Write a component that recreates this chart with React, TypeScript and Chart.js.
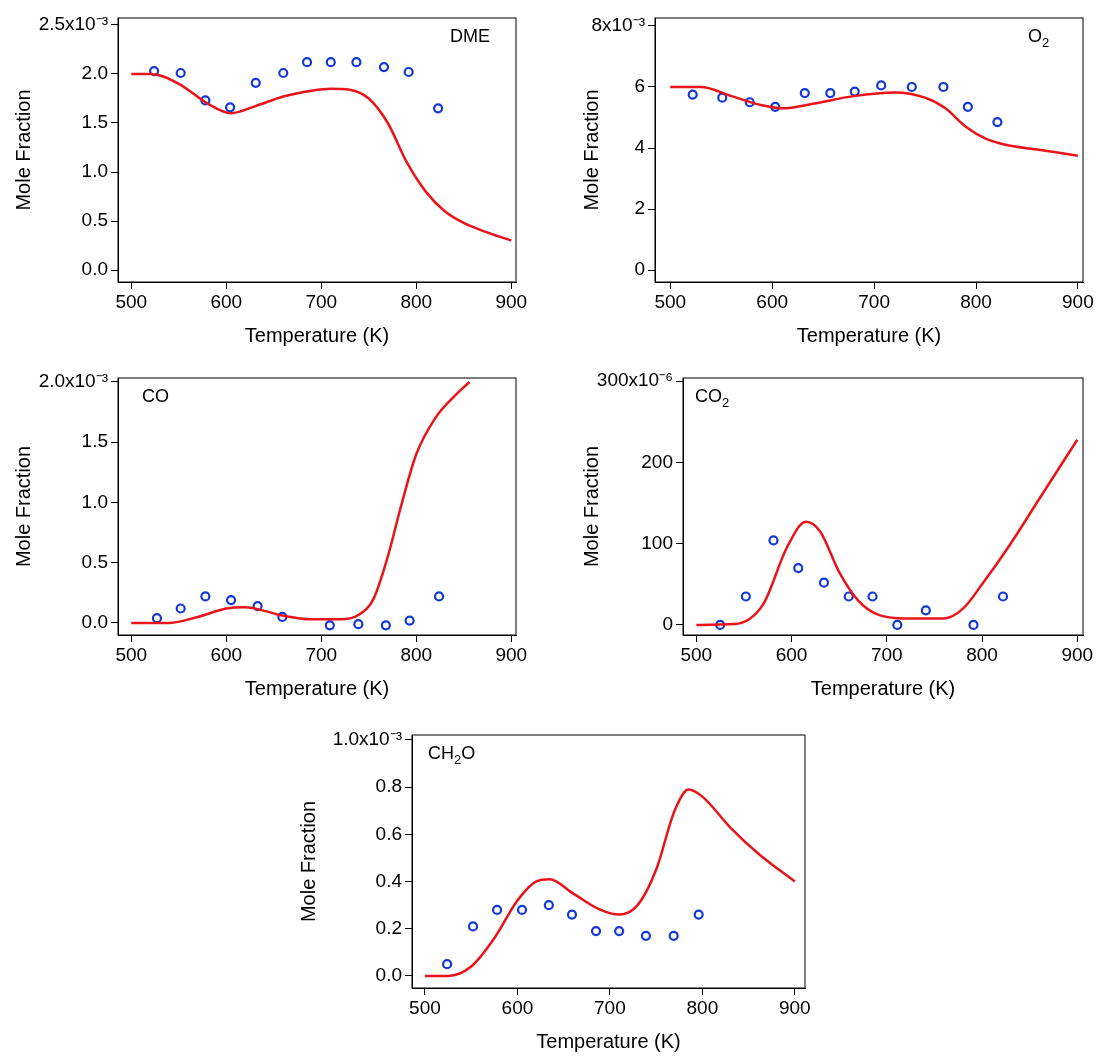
import React, { useEffect, useRef } from "react";
import { Chart, registerables } from "chart.js";
Chart.register(...registerables);

// DME (x10^-3)
const dmeExpT = [524, 552, 578, 604, 631, 660, 685, 710, 737, 766, 792, 823];
const dmeExp = [2.03, 2.01, 1.73, 1.66, 1.91, 2.01, 2.12, 2.12, 2.12, 2.07, 2.02, 1.65];
const dmeModT = [500, 520, 550, 580, 605, 630, 660, 690, 710, 730, 750, 770, 790, 810, 830, 850, 870, 900];
const dmeMod = [2.0, 2.0, 1.9, 1.7, 1.6, 1.67, 1.77, 1.83, 1.85, 1.84, 1.75, 1.5, 1.1, 0.8, 0.6, 0.48, 0.4, 0.3];
// O2 (x10^-3)
const o2ExpT = [522, 551, 578, 603, 632, 657, 681, 707, 737, 768, 792, 821];
const o2Exp = [5.75, 5.65, 5.5, 5.35, 5.8, 5.8, 5.85, 6.05, 6.0, 6.0, 5.35, 4.85];
const o2ModT = [500, 530, 560, 590, 610, 640, 680, 720, 750, 770, 790, 810, 830, 860, 900];
const o2Mod = [6.0, 6.0, 5.7, 5.4, 5.3, 5.45, 5.7, 5.82, 5.65, 5.3, 4.7, 4.3, 4.1, 3.95, 3.75];
// CO (x10^-3)
const coExpT = [527, 552, 578, 605, 633, 659, 709, 739, 768, 793, 824];
const coExp = [0.04, 0.12, 0.22, 0.19, 0.14, 0.05, -0.02, -0.01, -0.02, 0.02, 0.22];
const coModT = [500, 540, 570, 600, 620, 640, 660, 690, 720, 740, 755, 770, 785, 800, 820, 840, 856];
const coMod = [0.0, 0.0, 0.05, 0.12, 0.13, 0.1, 0.06, 0.03, 0.03, 0.07, 0.2, 0.55, 1.0, 1.4, 1.7, 1.88, 2.0];
// CO2 (x10^-6)
const co2ExpT = [525, 552, 581, 607, 634, 660, 685, 711, 741, 791, 822];
const co2Exp = [0, 35, 104, 70, 52, 35, 35, 0, 18, 0, 35];
const co2ModT = [500, 540, 570, 595, 615, 630, 650, 670, 690, 720, 760, 780, 800, 830, 860, 900];
const co2Mod = [0, 1, 25, 95, 127, 115, 65, 30, 13, 8, 8, 20, 50, 100, 155, 228];
// CH2O (x10^-3)
const chExpT = [524, 552, 578, 605, 634, 659, 685, 710, 739, 769, 796];
const chExp = [0.05, 0.21, 0.28, 0.28, 0.3, 0.26, 0.19, 0.19, 0.17, 0.17, 0.26];
const chModT = [500, 525, 550, 575, 600, 620, 635, 660, 690, 710, 730, 750, 770, 785, 800, 830, 860, 900];
const chMod = [0, 0.0, 0.04, 0.16, 0.32, 0.4, 0.41, 0.35, 0.28, 0.26, 0.3, 0.45, 0.7, 0.79, 0.76, 0.63, 0.52, 0.4];

const xTicks = [500, 600, 700, 800, 900];

type P = {
  box: [number, number, number, number];
  yw: number;
  x: [number, number]; y: [number, number];
  yTicks: number[]; yLabels: string[];
  expT: number[]; exp: number[]; modT: number[]; mod: number[];
  label: [string, string, string]; labelPos: [number, number];
};

const W = 1103, H = 1062;
const FONT = "'Liberation Sans', Arial, sans-serif";

const panels: P[] = [
  { box: [118, 18, 516, 282], yw: 110, x: [486, 905], y: [-0.122, 2.571], yTicks: [0, 0.5, 1, 1.5, 2, 2.5],
    yLabels: ["0.0", "0.5", "1.0", "1.5", "2.0", "2.5x10⁻³"], expT: dmeExpT, exp: dmeExp, modT: dmeModT, mod: dmeMod,
    label: ["DME", "", ""], labelPos: [450, 28] },
  { box: [655, 18, 1083, 282], yw: 79, x: [485, 905], y: [-0.39, 8.26], yTicks: [0, 2, 4, 6, 8],
    yLabels: ["0", "2", "4", "6", "8x10⁻³"], expT: o2ExpT, exp: o2Exp, modT: o2ModT, mod: o2Mod,
    label: ["O", "2", ""], labelPos: [1028, 28] },
  { box: [118, 378, 516, 635], yw: 110, x: [486, 905], y: [-0.1, 2.033], yTicks: [0, 0.5, 1, 1.5, 2],
    yLabels: ["0.0", "0.5", "1.0", "1.5", "2.0x10⁻³"], expT: coExpT, exp: coExp, modT: coModT, mod: coMod,
    label: ["CO", "", ""], labelPos: [142, 388] },
  { box: [683, 378, 1083, 635], yw: 107, x: [486, 906], y: [-12.4, 304], yTicks: [0, 100, 200, 300],
    yLabels: ["0", "100", "200", "300x10⁻⁶"], expT: co2ExpT, exp: co2Exp, modT: co2ModT, mod: co2Mod,
    label: ["CO", "2", ""], labelPos: [695, 388] },
  { box: [412, 735, 805, 988], yw: 119, x: [486, 911], y: [-0.051, 1.021], yTicks: [0, 0.2, 0.4, 0.6, 0.8, 1.0],
    yLabels: ["0.0", "0.2", "0.4", "0.6", "0.8", "1.0x10⁻³"], expT: chExpT, exp: chExp, modT: chModT, mod: chMod,
    label: ["CH", "2", "O"], labelPos: [428, 745] },
];

const XH = 70;

function Panel({ p }: { p: P }) {
  const ref = useRef<HTMLCanvasElement>(null);
  useEffect(() => {
    const [l, t, r, b] = p.box;
    const boxPlugin = {
      id: "box",
      afterDraw(c: any) {
        const ctx = c.ctx, a = c.chartArea;
        ctx.save();
        ctx.strokeStyle = "#000"; ctx.lineWidth = 1;
        ctx.strokeRect(a.left, a.top, a.right - a.left, a.bottom - a.top);
        ctx.fillStyle = "#000"; ctx.textBaseline = "top"; ctx.textAlign = "left";
        let [x, y] = p.labelPos;
        ctx.font = `18px ${FONT}`;
        ctx.fillText(p.label[0], x, y); x += ctx.measureText(p.label[0]).width;
        if (p.label[1]) { ctx.font = `13px ${FONT}`; ctx.fillText(p.label[1], x, y + 9); x += ctx.measureText(p.label[1]).width; }
        if (p.label[2]) { ctx.font = `18px ${FONT}`; ctx.fillText(p.label[2], x, y); }
        ctx.restore();
      },
    };
    const ch = new Chart(ref.current!, {
      type: "scatter",
      data: {
        datasets: [
          { data: p.modT.map((v, i) => ({ x: v, y: p.mod[i] })), showLine: true, borderColor: "#e8141a", borderWidth: 2.5,
            pointRadius: 0, cubicInterpolationMode: "monotone" } as any,
          { data: p.expT.map((v, i) => ({ x: v, y: p.exp[i] })), borderColor: "#1238d6", backgroundColor: "rgba(0,0,0,0)",
            pointRadius: 4, borderWidth: 2.2 } as any,
        ],
      },
      options: {
        animation: false, responsive: false, events: [],
        layout: { padding: { left: l - p.yw, top: t, right: W - r, bottom: H - b - XH } },
        plugins: { legend: { display: false }, tooltip: { enabled: false } },
        scales: {
          x: {
            type: "linear", min: p.x[0], max: p.x[1],
            afterBuildTicks: (s: any) => { s.ticks = xTicks.map((v) => ({ value: v })); },
            afterFit: (s: any) => { s.height = XH; },
            grid: { drawOnChartArea: false, tickLength: 7, tickColor: "#000" }, border: { color: "#000" },
            ticks: { color: "#000", font: { family: FONT, size: 19 }, padding: 2, maxRotation: 0 },
            title: { display: true, text: "Temperature (K)", color: "#000", font: { family: FONT, size: 20 }, padding: { top: 0 } },
          },
          y: {
            type: "linear", min: p.y[0], max: p.y[1],
            afterBuildTicks: (s: any) => { s.ticks = p.yTicks.map((v) => ({ value: v })); },
            afterFit: (s: any) => { s.width = p.yw; },
            grid: { drawOnChartArea: false, tickLength: 7, tickColor: "#000" }, border: { color: "#000" },
            ticks: { color: "#000", font: { family: FONT, size: 19 }, padding: 3,
              callback: (v: any) => { const i = p.yTicks.findIndex((t) => Math.abs(t - v) < 1e-9); return i >= 0 ? p.yLabels[i] : ""; } },
            title: { display: true, text: "Mole Fraction", color: "#000", font: { family: FONT, size: 20 }, padding: { bottom: 0 } },
          },
        },
      },
      plugins: [boxPlugin],
    });
    return () => ch.destroy();
  }, []);
  return <canvas ref={ref} width={W} height={H} style={{ position: "absolute", left: 0, top: 0, width: W, height: H }} />;
}

export default function App() {
  useEffect(() => { document.body.style.margin = "0"; }, []);
  return (
    <div style={{ position: "relative", width: W, height: H, background: "#fff" }}>
      {panels.map((p, i) => <Panel key={i} p={p} />)}
    </div>
  );
}
